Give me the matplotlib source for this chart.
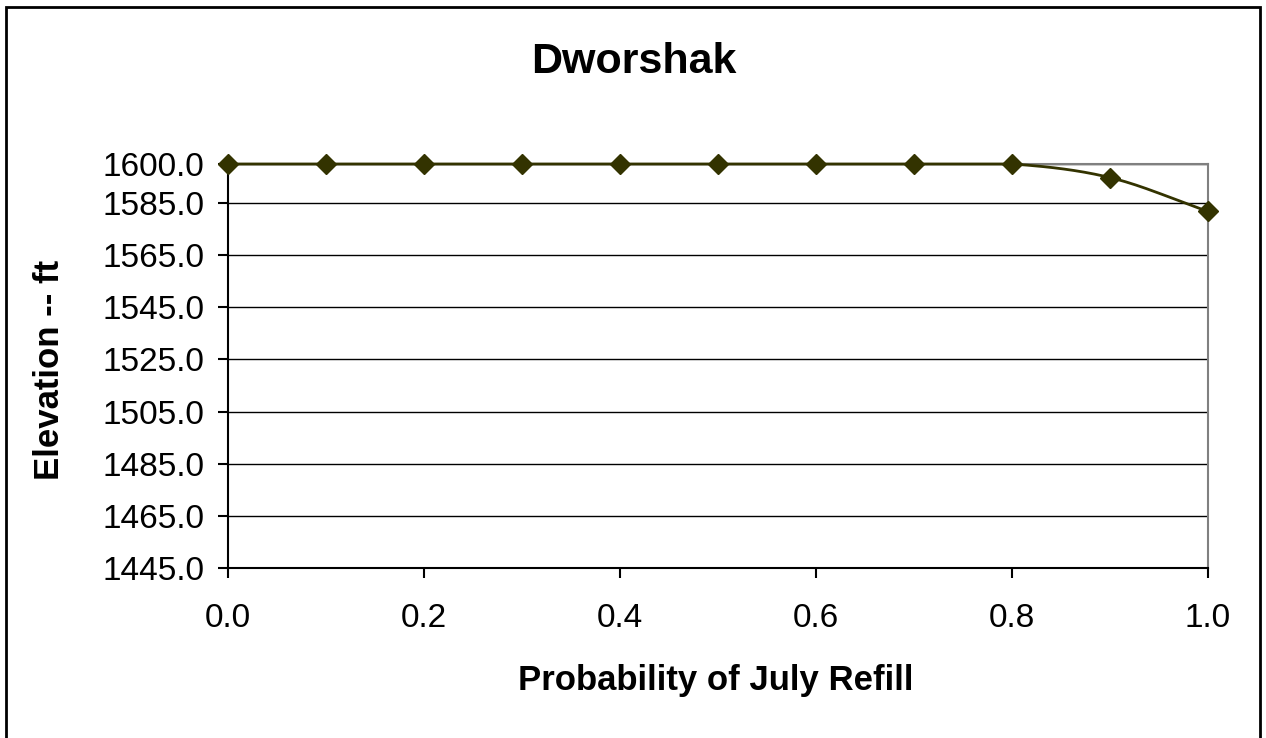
import numpy as np
import matplotlib
matplotlib.use("Agg")
from matplotlib import pyplot as plt
from matplotlib.patches import Rectangle

plt.rcParams['font.family'] = ['Liberation Sans', 'DejaVu Sans']

# chart data
probability = [0.0, 0.1, 0.2, 0.3, 0.4, 0.5, 0.6, 0.7, 0.8, 0.9, 1.0]
elevation = [1600.0, 1600.0, 1600.0, 1600.0, 1600.0, 1600.0, 1600.0, 1600.0, 1600.0, 1594.8, 1581.8]
y_ticks = [1445.0, 1465.0, 1485.0, 1505.0, 1525.0, 1545.0, 1565.0, 1585.0, 1600.0]
x_ticks = [0.0, 0.2, 0.4, 0.6, 0.8, 1.0]

LINE_COLOR = '#333300'
W, H = 1266, 738


def smooth_line(x, y, steps=20):
    # Catmull-Rom spline through the points, like Excel's smoothed line
    x = np.asarray(x, float)
    y = np.asarray(y, float)
    px = np.concatenate([[2 * x[0] - x[1]], x, [2 * x[-1] - x[-2]]])
    py = np.concatenate([[y[0]], y, [2 * y[-1] - y[-2]]])
    xs, ys = [], []
    t = np.linspace(0, 1, steps)
    for i in range(1, len(px) - 2):
        p0, p1, p2, p3 = px[i - 1], px[i], px[i + 1], px[i + 2]
        q0, q1, q2, q3 = py[i - 1], py[i], py[i + 1], py[i + 2]
        h00 = 2 * t**3 - 3 * t**2 + 1
        h10 = t**3 - 2 * t**2 + t
        h01 = -2 * t**3 + 3 * t**2
        h11 = t**3 - t**2
        mx1, mx2 = (p2 - p0) / 2, (p3 - p1) / 2
        my1, my2 = (q2 - q0) / 2, (q3 - q1) / 2
        xs.append(h00 * p1 + h10 * mx1 + h01 * p2 + h11 * mx2)
        ys.append(np.minimum(h00 * q1 + h10 * my1 + h01 * q2 + h11 * my2, max(q1, q2)))
    return np.concatenate(xs), np.concatenate(ys)


fig = plt.figure(figsize=(W / 100, H / 100), dpi=100)
ax = fig.add_axes([228 / W, 1 - 568 / H, (1208 - 228) / W, (568 - 164) / H])

sx, sy = smooth_line(probability, elevation)
ax.plot(sx, sy, color=LINE_COLOR, linewidth=2, clip_on=False, zorder=3)
ax.plot(probability, elevation, linestyle='none', marker='D', markersize=10,
        color=LINE_COLOR, clip_on=False, zorder=4)

ax.set_xlim(0.0, 1.0)
ax.set_ylim(1445.0, 1600.0)
ax.set_xticks(x_ticks)
ax.set_xticklabels([f"{v:.1f}" for v in x_ticks])
ax.set_yticks(y_ticks)
ax.set_yticklabels([f"{v:.1f}" for v in y_ticks])
ax.tick_params(axis='both', direction='out', length=7, width=1.5, labelsize=24, colors='black')
ax.tick_params(axis='x', pad=18)
ax.tick_params(axis='y', pad=10)

ax.grid(axis='y', color='black', linewidth=1.0)
ax.set_axisbelow(True)
for side in ('top', 'right'):
    ax.spines[side].set_color('#808080')
    ax.spines[side].set_linewidth(1.5)
for side in ('left', 'bottom'):
    ax.spines[side].set_color('black')
    ax.spines[side].set_linewidth(1.5)

fig.text(716 / W, 1 - 690 / H, "Probability of July Refill", fontsize=25,
         fontweight='bold', ha='center', va='baseline')
fig.text(59 / W, 1 - 370 / H, "Elevation -- ft", fontsize=25, fontweight='bold',
         rotation=90, rotation_mode='anchor', ha='center', va='baseline')
fig.text(634 / W, 1 - 73 / H, "Dworshak", fontsize=31, fontweight='bold',
         ha='center', va='baseline')

# outer chart frame
fig.patches.append(Rectangle((6 / W, -0.1), (1260 - 6) / W, 1.1 - 7 / H,
                             transform=fig.transFigure, fill=False,
                             edgecolor='black', linewidth=2))

fig.savefig("out.png", dpi=100, facecolor='white')
